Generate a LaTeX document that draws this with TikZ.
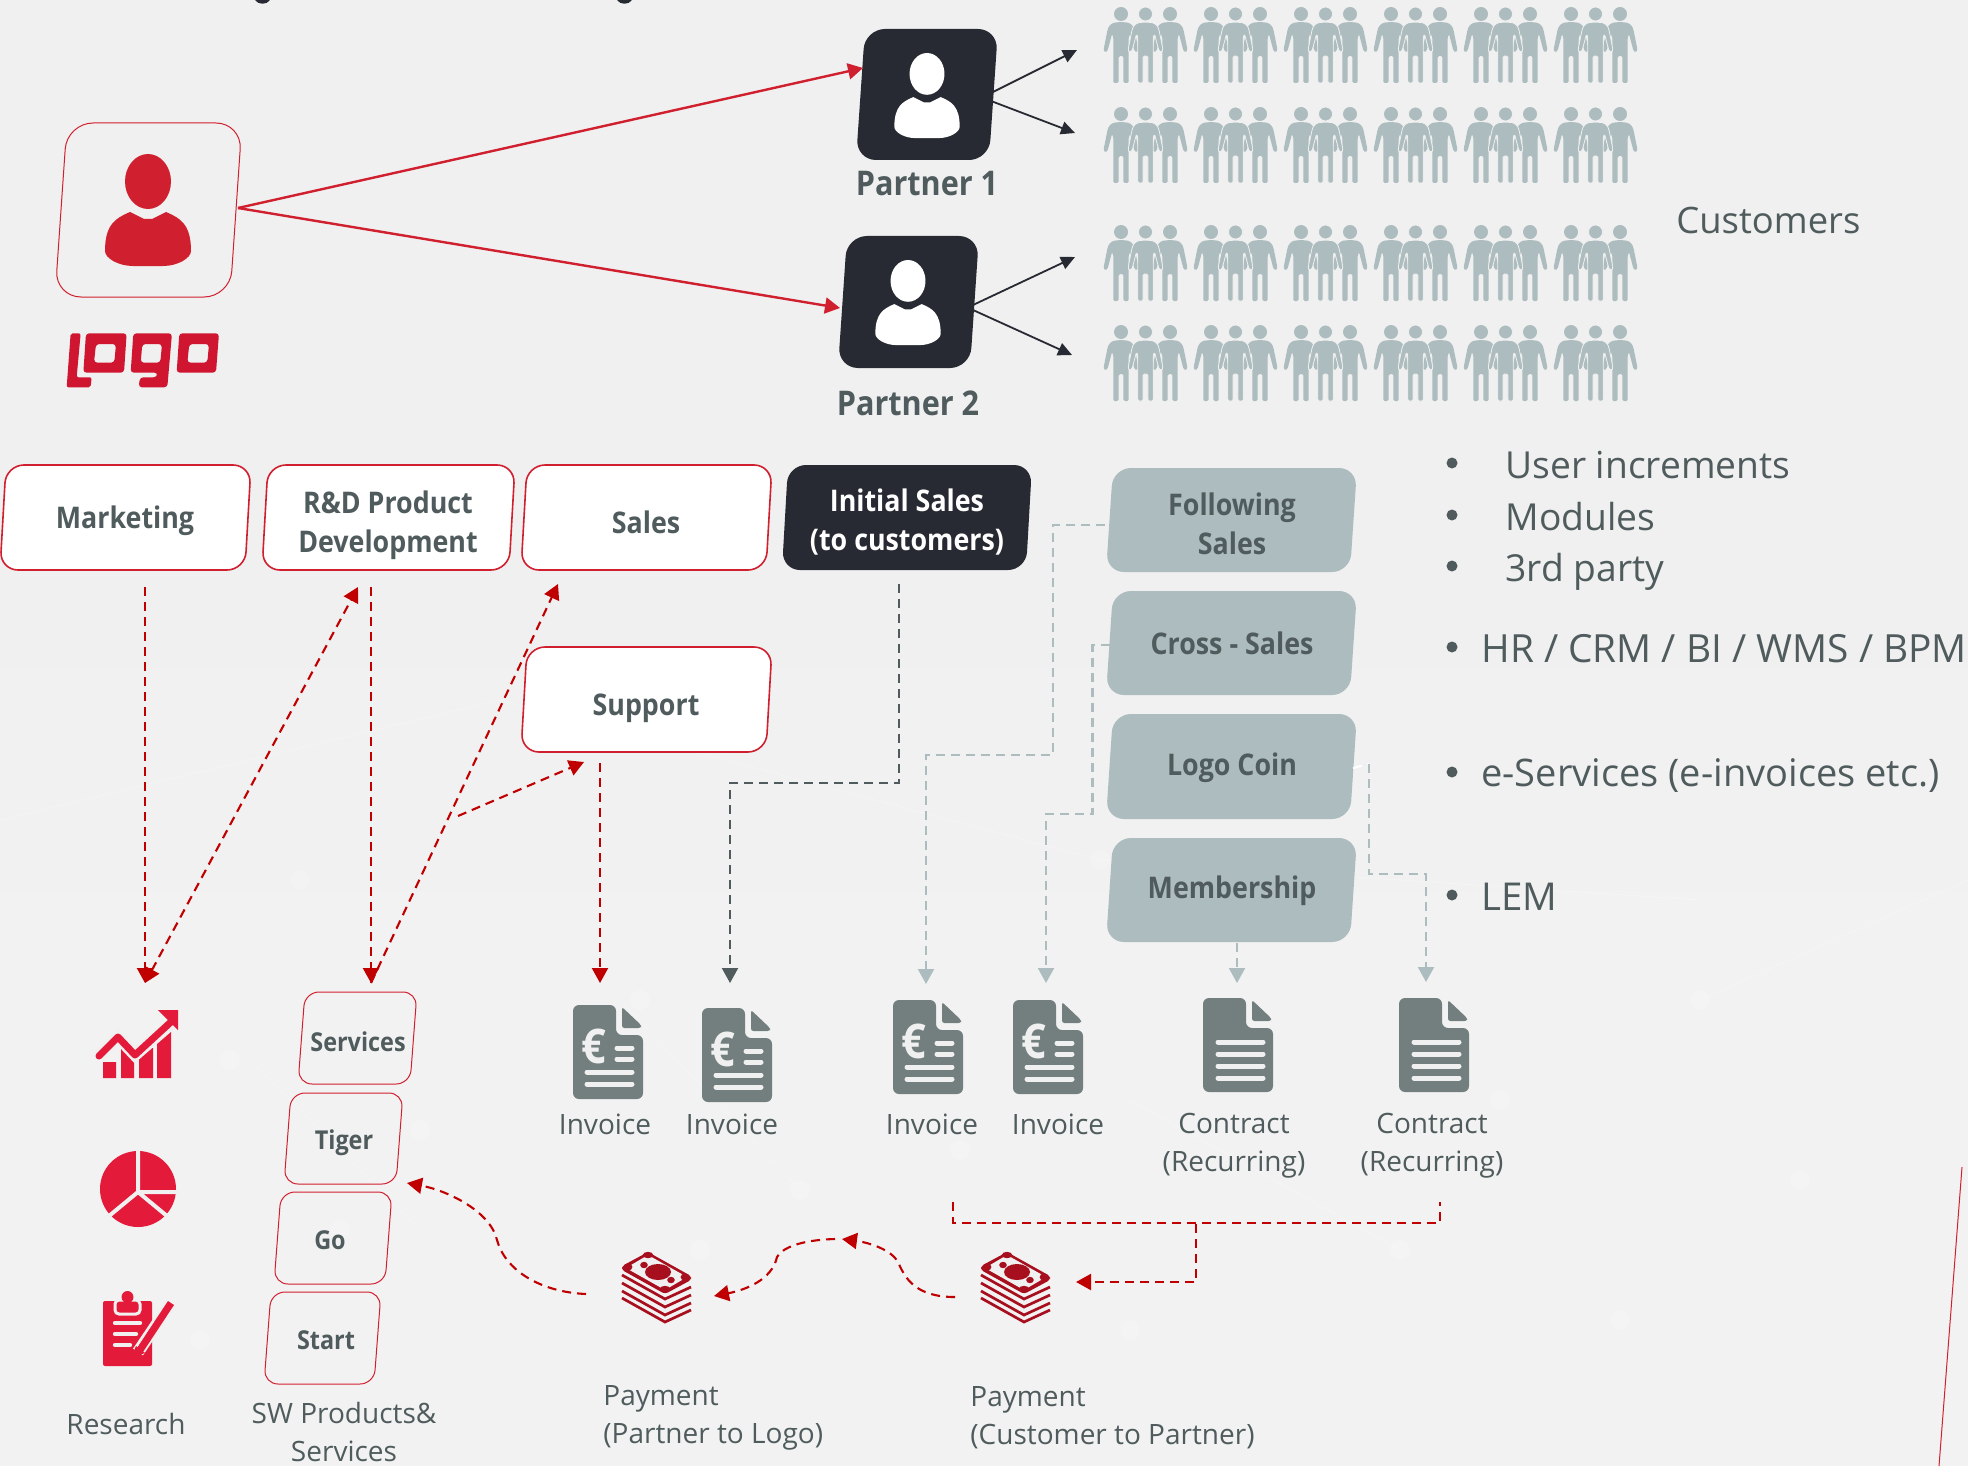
\documentclass[tikz,border=0pt]{standalone}
\usepackage{fontspec}
\setmainfont[BoldFeatures={FakeStretch=0.9}]{Open Sans}
\usetikzlibrary{calc,arrows.meta}
\definecolor{bgc}{HTML}{F0F0F0}
\definecolor{bgl}{HTML}{F2F2F2}
\definecolor{lred}{HTML}{D01F2E}
\definecolor{wred}{HTML}{D01530}
\definecolor{dred}{HTML}{C00000}
\definecolor{ired}{HTML}{E41A3A}
\definecolor{mred}{HTML}{A80F1E}
\definecolor{ink}{HTML}{272A32}
\definecolor{tgray}{HTML}{4F5B5C}
\definecolor{lgray}{HTML}{ADBCBE}
\definecolor{dgray}{HTML}{737F7F}
\tikzset{
  x=0.5pt,y=-0.5pt,
  tip/.style={-{Triangle[length=7.5pt,width=8pt]}},
  redline/.style={draw=lred,line width=1.2pt,tip},
  inkline/.style={draw=ink,line width=0.9pt,-{Triangle[length=7pt,width=6.5pt]}},
  dashline/.style={line width=1.05pt,dash pattern=on 4.5pt off 3pt},
  reddash/.style={draw=dred,dashline,tip},
  twodash/.style={draw=dred,dashline,{Triangle[length=7.5pt,width=8pt]}-{Triangle[length=7.5pt,width=8pt]}},
  reddashnt/.style={draw=dred,dashline},
  graydash/.style={draw=tgray,dashline,tip},
  lightdash/.style={draw=lgray,dashline,tip},
  boldlabel/.style={font=\fontsize{14.9pt}{19.5pt}\selectfont\bfseries,text=tgray,align=center,inner sep=0pt},
  whitelabel/.style={font=\fontsize{14.9pt}{19.5pt}\selectfont\bfseries,text=white,align=center,inner sep=0pt},
  partnerlabel/.style={font=\fontsize{17pt}{20pt}\selectfont\bfseries,text=tgray,align=center,inner sep=0pt},
  smalllabel/.style={font=\fontsize{13pt}{19pt}\selectfont\bfseries,text=tgray,align=center,inner sep=0pt},
  plainlabel/.style={font=\fontsize{14pt}{19pt}\selectfont,text=tgray,align=center,inner sep=0pt},
  biglabel/.style={font=\fontsize{19.2pt}{24pt}\selectfont,text=tgray,inner sep=0pt,anchor=west},
  listlabel/.style={biglabel,font=\fontsize{18.6pt}{24pt}\selectfont},
  customerlabel/.style={biglabel,font=\fontsize{18.2pt}{24pt}\selectfont},
  bulletdot/.style={fill=tgray,draw=none,circle,minimum size=5.5pt,inner sep=0pt},
  whitebox/.style={draw=lred,fill=white,line width=0.8pt},
  linebox/.style={draw=lred,line width=0.5pt},
  graybox/.style={fill=lgray},
  darkbox/.style={fill=ink},
}
% skewed rounded box: x-left y-top x-right y-bottom slant radius style
\newcommand{\skewbox}[7]{%
  \path[#7,rounded corners=#6*0.5pt]
    ({#1+#5},#2) -- (#3,#2) -- ({#3-#5},#4) -- (#1,#4) -- cycle;}
% person silhouette: center x, head top y, scale, colour
\newcommand{\bust}[4]{%
  \begin{scope}[shift={(#1,#2)},scale=#3]
    \fill[#4] (0,27.5) ellipse [x radius=23*0.5pt,y radius=27.5*0.5pt];
    \fill[#4] (-18,58) .. controls (-32,64) and (-43,70) .. (-43,97)
      .. controls (-43,104) and (-30,112) .. (-15,112)
      -- (15,112) .. controls (30,112) and (43,104) .. (43,97)
      .. controls (43,70) and (32,64) .. (18,58)
      -- (4,65) -- (-4,65) -- cycle;
  \end{scope}}
% one crowd figure
\newcommand{\crowdman}[3]{%
  \begin{scope}[shift={(#1,#2)}]
    \fill[#3] (0,7) circle [radius=3.5pt];
    \filldraw[#3,rounded corners=0.7pt]
      (0,15) -- (8,15.8) -- (12,19) -- (13.5,23) -- (17.5,43) -- (16,45.5) -- (13.5,44)
      -- (9,27) -- (7.7,30) -- (7.7,76) -- (2.4,76) -- (2.4,49) -- (-2.4,49) -- (-2.4,76)
      -- (-7.7,76) -- (-7.7,30) -- (-9,27) -- (-13.5,44) -- (-16,45.5) -- (-17.5,43) -- (-13.5,23)
      -- (-12,19) -- (-8,15.8) -- cycle;
  \end{scope}}
\newcommand{\crowdgroup}[2]{%
  \crowdman{#1+17}{#2}{fill=lgray,draw=none}
  \crowdman{#1+66}{#2}{fill=lgray,draw=none}
  \crowdman{#1+41.5}{#2}{fill=lgray,draw=bgc,line width=0.4pt}}
% document icon outline
\newcommand{\docicon}[2]{%
  \fill[dgray,rounded corners=3pt] (#1,{#2+1}) -- ({#1+43},{#2+1}) -- ({#1+43},{#2+31}) -- ({#1+50},{#2+31}) -- ({#1+70},{#2+31}) -- ({#1+70},{#2+95}) -- (#1,{#2+95}) -- cycle;
  \fill[dgray,rounded corners=1.2pt] ({#1+49},{#2+3}) -- ({#1+68},{#2+21}) -- ({#1+68},{#2+24}) -- ({#1+49},{#2+24}) -- cycle;}
\newcommand{\invoiceicon}[3]{%
  \docicon{#1}{#2}
  \draw[bgc,line width=2.5pt,line cap=round]
    ({#1+44},{#2+44}) -- ({#1+59},{#2+44}) ({#1+44},{#2+55}) -- ({#1+59},{#2+55})
    ({#1+14},{#2+68}) -- ({#1+59},{#2+68}) ({#1+14},{#2+80}) -- ({#1+59},{#2+80});
  \node[inner sep=0pt,font=\fontsize{24pt}{24pt}\selectfont\bfseries,text=bgc] (#3) at ({#1+21},{#2+42}) {€};}
\newcommand{\contracticon}[2]{%
  \docicon{#1}{#2}
  \draw[bgc,line width=2.5pt,line cap=round]
    ({#1+15},{#2+45}) -- ({#1+60},{#2+45}) ({#1+15},{#2+57}) -- ({#1+60},{#2+57})
    ({#1+15},{#2+69}) -- ({#1+60},{#2+69}) ({#1+15},{#2+81}) -- ({#1+60},{#2+81});}
\newcommand{\moneyicon}[2]{%
  \begin{scope}[shift={(#1,#2)}]
    \fill[mred,rounded corners=1.5pt] (26,0) -- (69,24) -- (69,28) -- (43,42) -- (0,18) -- (0,14) -- cycle;
    \fill[bgc] (26,3) -- (65,25) -- (43,38) -- (4,16) -- cycle;
    \fill[mred] (26,3) ellipse [x radius=2.6pt,y radius=1.6pt] (63,25) ellipse [x radius=2.2pt,y radius=1.8pt] (43,37) ellipse [x radius=2.6pt,y radius=1.6pt] (6,15) ellipse [x radius=2.2pt,y radius=1.8pt];
    \fill[mred] (36,20) ellipse [x radius=6.5pt,y radius=4pt];
    \fill[mred] (22,13) ellipse [x radius=1.9pt,y radius=1.6pt] (49,28) ellipse [x radius=1.9pt,y radius=1.6pt];
    \foreach \d in {0,8,16,23}
      \draw[mred,line width=1.35pt] (0,23+\d) -- (43,47+\d) -- (69,35+\d);
  \end{scope}}
\begin{document}
\begin{tikzpicture}
\useasboundingbox (0,0) rectangle (1968,1466);
\fill[bgc] (0,0) rectangle (1968,1466);
\shade[top color=bgc,bottom color=bgl] (0,560) rectangle (1968,1000);
\fill[bgl] (0,1000) rectangle (1968,1466);
% faint network in the background
\foreach \ax/\ay/\bx/\by in {0/820/500/700,500/700/1100/860,1100/860/1700/900,620/1000/800/1190,1130/1100/1400/1250,250/1060/420/1230,1700/1000/1968/880}
  \draw[white,opacity=.25,line width=0.4pt] (\ax,\ay) -- (\bx,\by);
\foreach \px/\py in {230/1060,340/1230,420/1130,200/1340,700/1250,800/1190,960/1150,1130/1330,1400/1250,1500/1100,1620/1320,1700/1000,1800/1180,300/880,640/1000,1100/860}
  \fill[white,opacity=.18] (\px,\py) circle [radius=5pt];
% cut off title descenders
\fill[ink] (255,0) .. controls (258,5) and (267,5) .. (270,0) -- cycle;
\fill[ink] (617,0) .. controls (620,5) and (629,5) .. (632,0) -- cycle;
% outer logo box
\skewbox{55}{123}{242}{297}{12}{26}{linebox}
\node[inner sep=0pt,minimum size=1pt] (logobox) at (148.5,210) {};
\bust{148}{154}{1}{lred}
% logo wordmark
\begin{scope}[shift={(50,320)},x=0.5pt/3,y=-0.5pt/3]
\fill[wred,rounded corners=1pt] (62,40) -- (92,40) -- (80,172) -- (125,172) -- (122,202) -- (50,202) -- cycle;
\fill[wred,rounded corners=1.6pt,even odd rule]
  (108,40) -- (230,40) -- (222,158) -- (100,158) -- cycle
  (138,72) -- (198,72) -- (193,128) -- (132,128) -- cycle;
\fill[wred,rounded corners=1.6pt,even odd rule]
  (250,40) -- (366,40) -- (352,202) -- (266,202) -- (270,172) -- (320,172) -- (323,158) -- (242,158) -- cycle
  (277,72) -- (336,72) -- (331,128) -- (272,128) -- cycle;
\fill[wred,rounded corners=1.6pt,even odd rule]
  (388,40) -- (507,40) -- (498,158) -- (380,158) -- cycle
  (418,72) -- (477,72) -- (472,128) -- (412,128) -- cycle;
\end{scope}
% partners
\skewbox{856}{29}{998}{160}{9}{20}{darkbox}
\node[minimum size=1pt,inner sep=0pt] (p1) at (927,94) {};
\bust{927}{53}{0.76}{white}
\node[partnerlabel] (p1label) at (927,184) {Partner 1};
\skewbox{838}{236}{979}{368}{9}{20}{darkbox}
\node[minimum size=1pt,inner sep=0pt] (p2) at (908,302) {};
\bust{908}{260}{0.76}{white}
\node[partnerlabel] (p2label) at (908,403) {Partner 2};
\coordinate (lo) at (238,208);
\coordinate (p1in) at (863,68);
\coordinate (p2in) at (840,308);
\draw[redline] (lo) -- (p1in);
\draw[redline] (lo) -- (p2in);
\coordinate (p1o) at (991,93); \coordinate (p1p) at (991,101);
\coordinate (p2o) at (973,305); \coordinate (p2p) at (973,310);
\coordinate (ca) at (1077,50); \coordinate (cb) at (1075,133);
\coordinate (cc) at (1075,257); \coordinate (cd) at (1072,355);
\draw[inkline] (p1o) -- (ca);
\draw[inkline] (p1p) -- (cb);
\draw[inkline] (p2o) -- (cc);
\draw[inkline] (p2p) -- (cd);
% crowd
\foreach \ry in {7,107,225,325}
  \foreach \cx in {0,...,5}
    {\crowdgroup{1104+90*\cx}{\ry}}
\node[customerlabel] (customers) at (1676,220) {Customers};
% top boxes
\skewbox{0}{465}{251}{570}{6}{18}{whitebox}
\node[boldlabel] (marketing) at (125,521) {Marketing};
\skewbox{262}{465}{515}{570}{6}{18}{whitebox}
\node[boldlabel] (rnd) at (388,525) {R\&D Product\\Development};
\skewbox{521}{465}{772}{570}{6}{18}{whitebox}
\node[boldlabel] (sales) at (646,522) {Sales};
\skewbox{782}{465}{1032}{570}{6}{18}{darkbox}
\node[whitelabel] (initial) at (907,522) {Initial Sales\\(to customers)};
\skewbox{521}{647}{772}{752}{6}{18}{whitebox}
\node[boldlabel] (support) at (646,708) {Support};
\skewbox{1106}{468}{1357}{572}{7}{18}{graybox}
\node[boldlabel] (following) at (1232,524) {Following\\Sales};
\skewbox{1106}{591}{1357}{695}{7}{18}{graybox}
\node[boldlabel] (cross) at (1232,643) {Cross - Sales};
\skewbox{1106}{714}{1357}{819}{7}{18}{graybox}
\node[boldlabel] (coin) at (1232,768) {Logo Coin};
\skewbox{1106}{838}{1357}{942}{7}{18}{graybox}
\node[boldlabel] (member) at (1232,891) {Membership};
% bullets
\node[bulletdot] (b1) at (1452,463) {}; \node[listlabel] (t1) at (1505,465) {User increments};
\node[bulletdot] (b2) at (1452,515) {}; \node[listlabel] (t2) at (1505,517) {Modules};
\node[bulletdot] (b3) at (1452,566) {}; \node[listlabel] (t3) at (1505,572) {3rd party};
\node[bulletdot] (b4) at (1452,647) {}; \node[biglabel,font=\fontsize{19.4pt}{24pt}\selectfont] (t4) at (1481,649) {HR / CRM / BI / WMS / BPM};
\node[bulletdot] (b5) at (1452,772) {}; \node[biglabel,font=\fontsize{19pt}{24pt}\selectfont] (t5) at (1481,776) {e-Services (e-invoices etc.)};
\node[bulletdot] (b6) at (1452,895) {}; \node[biglabel] (t6) at (1481,897) {LEM};
% red icons
\fill[ired] (103,1062) rectangle (116,1078) (121,1048) rectangle (134,1078) (139,1048) rectangle (153,1078) (157,1032) rectangle (171,1078);
\draw[bgc,line width=6pt] (99,1056) -- (118,1037) -- (135,1055) -- (172,1023);
\draw[ired,line width=3.5pt,line cap=round,line join=round] (99,1056) -- (118,1037) -- (135,1055) -- (172,1021);
\fill[ired] (158,1010) -- (178,1010) -- (178,1030) -- cycle;
\fill[ired] (138,1189) circle [radius=19pt];
\draw[bgc,line width=2pt] (138,1150) -- (138,1192) -- (178,1192) (109,1216) -- (138,1192) -- (167,1216);
\fill[ired,rounded corners=1pt] (103,1301) rectangle (152,1366);
\draw[bgc,line width=1.5pt,fill=ired,rounded corners=2pt] (115,1300) rectangle (140,1314);
\fill[ired] (127.5,1297) circle [radius=3pt];
\draw[bgc,line width=2.2pt,line cap=round] (115,1323) -- (140,1323) (115,1334) -- (136,1334) (115,1345) -- (130,1345);
\draw[bgc,line width=6pt] (171,1303) -- (138,1352);
\draw[ired,line width=3.6pt] (171,1303) -- (140,1350);
\fill[ired] (136,1346) -- (145,1353) -- (131,1358) -- cycle;
% SW boxes
\skewbox{298}{992}{417}{1084}{7}{14}{linebox}
\node[smalllabel] (services) at (358,1042) {Services};
\skewbox{284}{1093}{403}{1184}{7}{14}{linebox}
\node[smalllabel] (tiger) at (344,1143) {Tiger};
\skewbox{274}{1192}{392}{1284}{7}{14}{linebox}
\node[smalllabel] (go) at (330,1240) {Go};
\skewbox{264}{1292}{381}{1384}{7}{14}{linebox}
\node[smalllabel] (start) at (326,1340) {Start};
\node[plainlabel] (research) at (126,1424) {Research};
\node[plainlabel] (swprod) at (344,1432) {SW Products\&\\Services};
% documents
\invoiceicon{573}{1004}{e1}
\invoiceicon{702}{1007}{e2}
\invoiceicon{893}{999}{e3}
\invoiceicon{1013}{999}{e4}
\contracticon{1203}{997}
\contracticon{1399}{997}
\node[plainlabel] (i1) at (605,1124) {Invoice};
\node[plainlabel] (i2) at (732,1124) {Invoice};
\node[plainlabel] (i3) at (932,1124) {Invoice};
\node[plainlabel] (i4) at (1058,1124) {Invoice};
\node[plainlabel] (c1) at (1234,1146) {Contract\\(Recurring)};
\node[plainlabel] (c2) at (1432,1146) {Contract\\(Recurring)};
\moneyicon{622}{1252}
\moneyicon{981}{1252}
\node[plainlabel,anchor=west,align=left] (pay1) at (603,1418) {Payment\\(Partner to Logo)};
\node[plainlabel,anchor=west,align=left] (pay2) at (970,1418) {Payment\\(Customer to Partner)};
% dashed connectors
\coordinate (mk) at (145,587); \coordinate (rnA) at (145,983);
\coordinate (rd) at (358,587); \coordinate (rdb) at (371,587); \coordinate (sv) at (371,983);
\coordinate (sl) at (558,584); \coordinate (spk) at (458,816); \coordinate (spi) at (584,762);
\coordinate (spo) at (600,763); \coordinate (ie1) at (600,983);
\draw[reddash] (mk) -- (rnA);
\draw[twodash] (rnA) -- (rd);
\draw[reddash] (rdb) -- (sv);
\draw[reddash] (sv) -- (sl);
\draw[reddash] (spk) -- (spi);
\draw[reddash] (spo) -- (ie1);
\coordinate (ino) at (899,584); \coordinate (iin) at (730,983);
\draw[graydash] (ino) |- (iin |- 0,783) -- (iin);
\coordinate (fo) at (1105,525); \coordinate (fi) at (926,984);
\draw[lightdash] (fo) -- (1053,525) -- (1053,755) -- (926,755) -- (fi);
\coordinate (co) at (1110,645); \coordinate (ci) at (1046,983);
\draw[lightdash] (co) -- (1092.5,645) -- (1092.5,814) -- (1046,814) -- (ci);
\coordinate (lo2) at (1369,764); \coordinate (lci) at (1426,982);
\draw[white,dashline] (coin.east -| 1353,0) -- (lo2);
\draw[lightdash] (lo2) -- (1369,874) -- (1426,874) -- (lci);
\coordinate (mo) at (1237,943); \coordinate (mi) at (1237,983);
\draw[lightdash] (mo) -- (mi);
\coordinate (bl) at (953,1202); \coordinate (br) at (1440,1202); \coordinate (bm) at (1196,1224);
\coordinate (pi) at (1076,1282);
\draw[reddashnt] (bl) -- (953,1223) -- (1440,1223) -- (br);
\draw[reddash] (bm) -- (1196,1282) -- (pi);
\coordinate (pa) at (955,1297); \coordinate (pb) at (842,1239);
\coordinate (pc) at (835,1239); \coordinate (pd) at (714,1296);
\coordinate (pe) at (586,1294); \coordinate (pf) at (407,1183);
\draw[reddash] (pa) .. controls (915,1297) and (905,1278) .. (898,1262) .. controls (890,1248) and (865,1242) .. (pb);
\draw[reddash] (pc) .. controls (800,1240) and (782,1248) .. (777,1257) .. controls (772,1280) and (745,1290) .. (pd);
\draw[reddash] (pe) .. controls (540,1292) and (505,1270) .. (497,1240) .. controls (490,1210) and (445,1190) .. (pf);
% edge line at the lower right
\coordinate (ea) at (1962,1167); \coordinate (eb) at (1939,1466);
\draw[lred,line width=0.5pt] (ea) -- (eb);
\end{tikzpicture}
\end{document}
